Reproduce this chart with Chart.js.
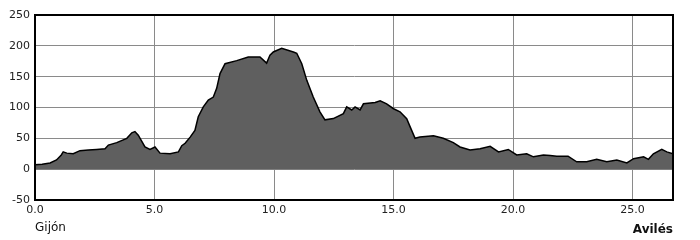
<!DOCTYPE html>
<html lang="es">
<head>
<meta charset="UTF-8">
<title>Perfil Gijón - Avilés</title>
<script src="https://cdn.jsdelivr.net/npm/chart.js@4.4.0/dist/chart.umd.min.js"></script>
<style>
  html, body { margin: 0; padding: 0; background: #fff; }
  canvas { display: block; }
</style>
</head>
<body>
<canvas id="perfil" width="700" height="240"></canvas>
<script>
  const distancias = [
    0, 0.3, 0.63, 0.9, 1.1, 1.18, 1.33, 1.6, 1.88, 2.23, 2.58, 2.93, 3.07, 3.42, 3.84,
    4.05, 4.18, 4.32, 4.6, 4.81, 5.02, 5.23, 5.65, 6.0, 6.14, 6.28, 6.49, 6.69, 6.83,
    7.04, 7.25, 7.46, 7.6, 7.74, 7.95, 8.44, 8.92, 9.41, 9.69, 9.83, 9.97, 10.32, 10.81,
    10.95, 11.16, 11.37, 11.64, 11.92, 12.13, 12.48, 12.9, 13.04, 13.25, 13.39, 13.6,
    13.74, 14.23, 14.44, 14.71, 15.0, 15.27, 15.55, 15.69, 15.9, 16.1, 16.67, 17.08,
    17.5, 17.78, 18.2, 18.62, 19.04, 19.39, 19.8, 20.15, 20.57, 20.85, 21.27, 21.55,
    21.83, 22.3, 22.66, 23.08, 23.5, 23.92, 24.34, 24.76, 25.04, 25.46, 25.66, 25.87,
    26.22, 26.43, 26.69
  ];
  const altitudes = [
    7, 8, 10, 15, 23, 28, 26, 25, 30, 31, 32, 33, 39, 43, 50,
    59, 61, 55, 36, 32, 36, 26, 25, 28, 38, 42, 52, 63, 85,
    101, 112, 117, 131, 155, 171, 176, 182, 182, 172, 185, 190, 196, 190,
    188, 171, 144, 117, 93, 80, 82, 90, 101, 96, 101, 96,
    106, 108, 111, 106, 98, 93, 82, 69, 50, 52, 54, 50,
    43, 36, 31, 33, 37, 28, 32, 23, 25, 20, 23, 22,
    21, 21, 12, 12, 16, 12, 15, 10, 17, 20, 16, 25,
    32, 28, 25
  ];
  const ticksX = [0, 5, 10, 15, 20, 25];
  const ticksY = [-50, 0, 50, 100, 150, 200, 250];
  const inicio = 'Gijón';
  const fin = 'Avilés';

  Chart.defaults.font.family = '"DejaVu Sans", sans-serif';
  Chart.defaults.font.size = 11;
  Chart.defaults.color = '#222';

  // marco superior/derecho y nombres de inicio y fin
  const marco = {
    id: 'marco',
    afterDraw(chart) {
      const { ctx, chartArea: a } = chart;
      ctx.save();
      ctx.strokeStyle = '#000';
      ctx.lineWidth = 2;
      ctx.strokeRect(a.left, a.top, a.right - a.left, a.bottom - a.top);
      ctx.fillStyle = '#111';
      ctx.textBaseline = 'middle';
      ctx.font = '12px "DejaVu Sans", sans-serif';
      ctx.textAlign = 'left';
      ctx.fillText(inicio, a.left, 228);
      ctx.font = 'bold 12px "DejaVu Sans", sans-serif';
      ctx.textAlign = 'right';
      ctx.fillText(fin, a.right, 230);
      ctx.restore();
    }
  };

  new Chart(document.getElementById('perfil'), {
    type: 'line',
    data: {
      datasets: [{
        data: distancias.map((d, i) => ({ x: d, y: altitudes[i] })),
        borderColor: '#000',
        borderWidth: 1.5,
        backgroundColor: '#5f5f5f',
        fill: 'origin',
        pointRadius: 0,
        tension: 0
      }]
    },
    options: {
      responsive: false,
      animation: false,
      layout: { padding: { top: 15, right: 27, left: 0, bottom: 0 } },
      plugins: { legend: { display: false }, tooltip: { enabled: false } },
      scales: {
        x: {
          type: 'linear',
          min: 0,
          max: 26.69,
          z: 1,
          afterBuildTicks: s => { s.ticks = ticksX.map(v => ({ value: v })); },
          afterFit: s => { s.height = 40; },
          ticks: { callback: v => v.toFixed(1), padding: 4, maxRotation: 0 },
          grid: { color: '#8a8a8a', lineWidth: 1, drawTicks: false },
          border: { color: '#000', width: 2 }
        },
        y: {
          min: -50,
          max: 250,
          z: 1,
          afterBuildTicks: s => { s.ticks = ticksY.map(v => ({ value: v })); },
          afterFit: s => { s.width = 35; },
          ticks: { padding: 5 },
          grid: { color: '#8a8a8a', lineWidth: 1, drawTicks: false },
          border: { color: '#000', width: 2 }
        }
      }
    },
    plugins: [marco]
  });
</script>
</body>
</html>
